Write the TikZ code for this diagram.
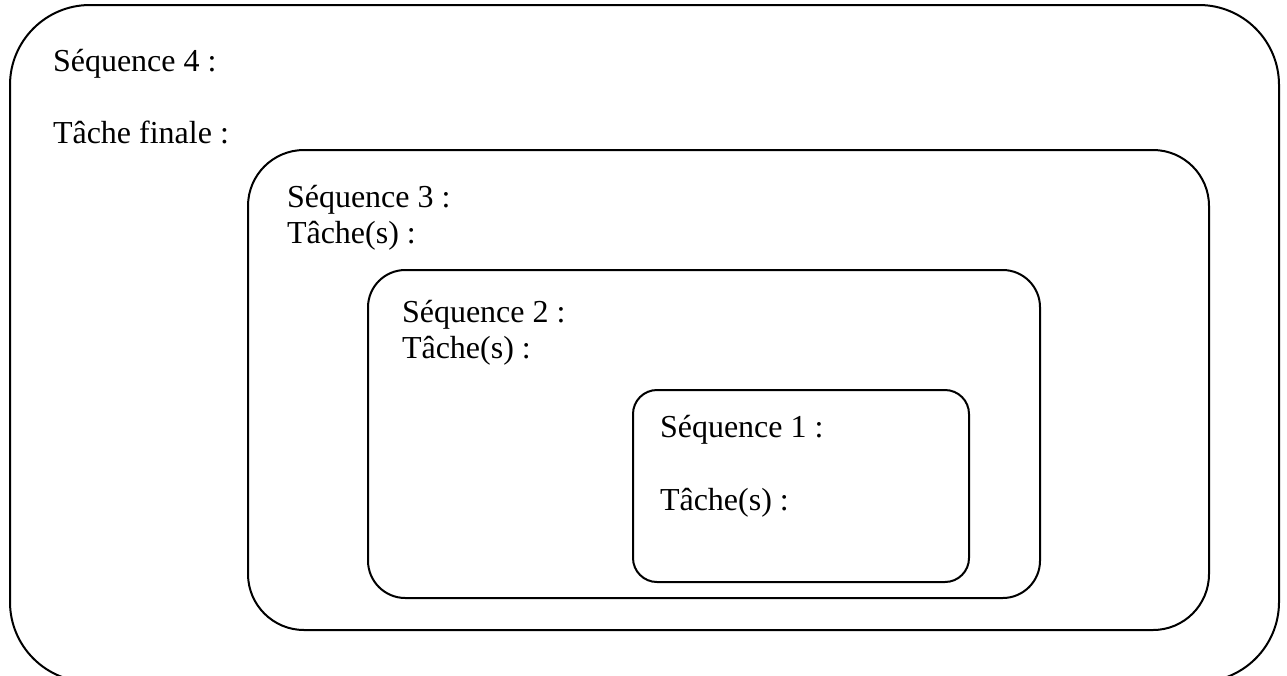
\documentclass[tikz,border=0pt]{standalone}
\usepackage{fontspec}
\setmainfont{Liberation Serif}
\begin{document}
\begin{tikzpicture}[x=0.375pt, y=-0.375pt, line width=0.75pt, every node/.style={inner sep=0pt, outer sep=0pt, anchor=base west, font=\fontsize{12}{14}\selectfont}]
        \useasboundingbox (0,0) rectangle (1287,675);
        \clip (0,0) rectangle (1287,675);

        % nested boxes
        \draw[rounded corners=30pt] (10,5) rectangle (1279,682);
        \draw[rounded corners=21pt] (248,150) rectangle (1209,630);
        \draw[rounded corners=14pt] (368,270) rectangle (1040,598);
        \draw[rounded corners=9pt] (633,390) rectangle (969,582);

        \node (seqfour) at (53, 71) {Séquence 4 :};
        \node (taskfour) at (53, 143) {Tâche finale :};

        \node (seqthree) at (287, 207) {Séquence 3 :};
        \node (taskthree) at (287, 243) {Tâche(s) :};

        \node (seqtwo) at (402, 322) {Séquence 2 :};
        \node (tasktwo) at (402, 358) {Tâche(s) :};

        \node (seqone) at (660, 437) {Séquence 1 :};
        \node (taskone) at (660, 510) {Tâche(s) :};
    \end{tikzpicture}
\end{document}
